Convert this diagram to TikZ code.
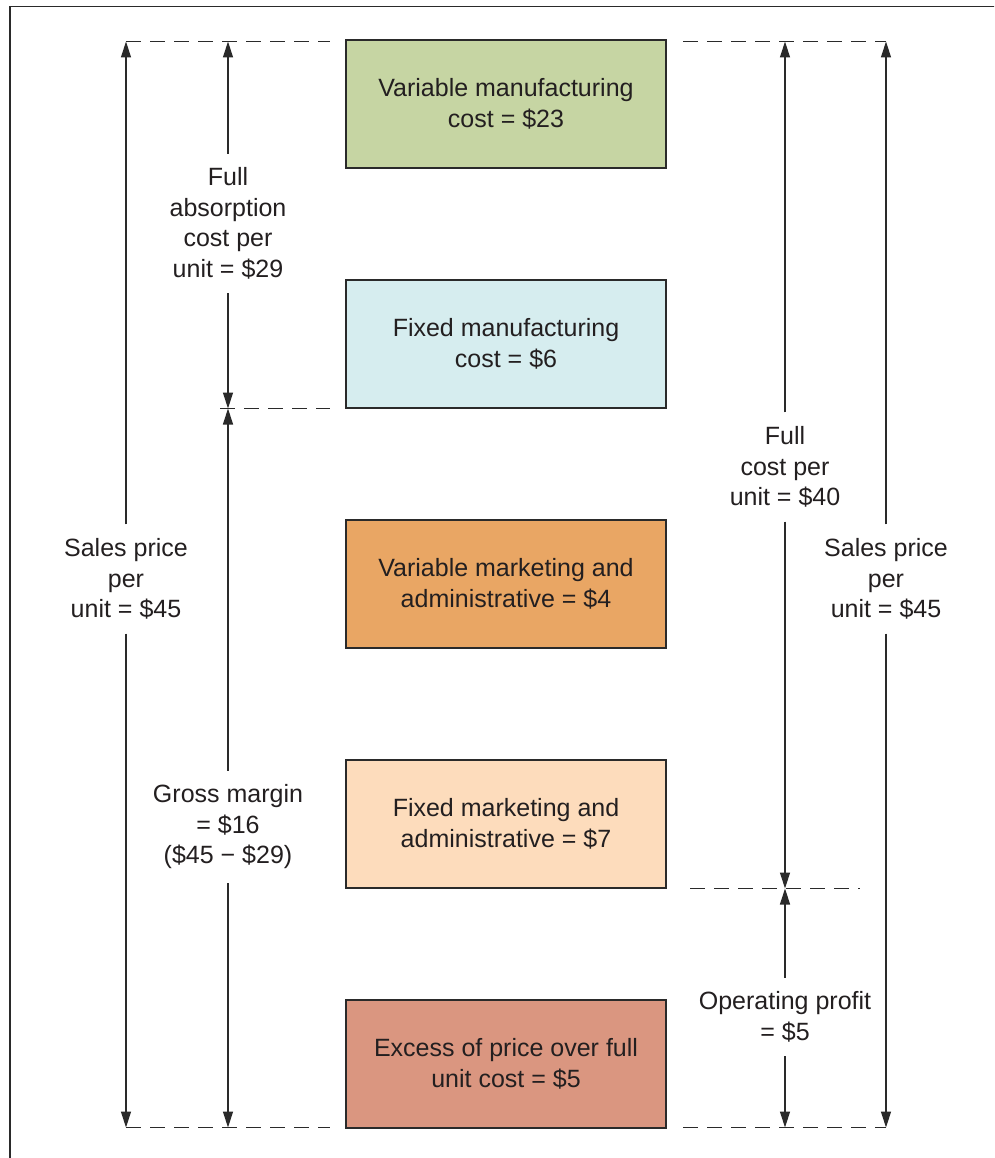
\documentclass[tikz,border=0pt]{standalone}
\usepackage{fontspec}
\setmainfont{Liberation Sans}
\usetikzlibrary{arrows.meta}

\definecolor{ink}{HTML}{231F20}
\definecolor{linegray}{HTML}{2A2A2A}
\definecolor{vmfill}{HTML}{C6D5A3}
\definecolor{fmfill}{HTML}{D6EDEF}
\definecolor{vafill}{HTML}{E9A664}
\definecolor{fafill}{HTML}{FDDCBC}
\definecolor{exfill}{HTML}{DA9680}

\tikzset{
  costbox/.style={draw=linegray, line width=1.1pt, minimum width=320pt,
    minimum height=128pt, inner sep=0pt, align=center, text=ink},
  sidelabel/.style={align=center, text=ink, inner xsep=2pt, inner ysep=14pt},
  dimarrow/.style={draw=linegray, line width=1.3pt,
    -{Triangle[length=16pt,width=10pt]}},
  guide/.style={draw=linegray, line width=1.4pt, dash pattern=on 15pt off 9pt},
}

\begin{document}
\begin{tikzpicture}[x=1pt, y=-1pt, font=\fontsize{25}{30.5}\selectfont]
  \clip (0,0) rectangle (994,1158);
  \fill[white] (0,0) rectangle (994,1158);

  % outer frame (runs past the right and lower edges)
  \draw[linegray, line width=1.3pt] (10,6.7) rectangle (1020,1200);

  % cost blocks
  \node[costbox, fill=vmfill] (vm) at (506,104) {Variable manufacturing\\cost = \$23};
  \node[costbox, fill=fmfill] (fm) at (506,344) {Fixed manufacturing\\cost = \$6};
  \node[costbox, fill=vafill] (va) at (506,584) {Variable marketing and\\administrative = \$4};
  \node[costbox, fill=fafill] (fa) at (506,824) {Fixed marketing and\\administrative = \$7};
  \node[costbox, fill=exfill] (ex) at (506,1064) {Excess of price over full\\unit cost = \$5};

  % guide line end points
  \coordinate (topL)  at (126,41.5);
  \coordinate (topM)  at (228,41.5);
  \coordinate (topLe) at (330,41.5);
  \coordinate (topRs) at (683,41.5);
  \coordinate (topC)  at (785,41.5);
  \coordinate (topR)  at (886,41.5);
  \coordinate (midLs) at (220,408.5);
  \coordinate (midM)  at (228,408.5);
  \coordinate (midLe) at (330,408.5);
  \coordinate (midRs) at (690,888.5);
  \coordinate (midC)  at (785,888.5);
  \coordinate (midRe) at (860,888.5);
  \coordinate (botL)  at (126,1127.5);
  \coordinate (botM)  at (228,1127.5);
  \coordinate (botLe) at (330,1127.5);
  \coordinate (botRs) at (683,1127.5);
  \coordinate (botC)  at (785,1127.5);
  \coordinate (botR)  at (886,1127.5);

  % dashed guide lines
  \draw[guide] (topL) -- (topLe);
  \draw[guide] (topRs) -- (topR);
  \draw[guide] (midLs) -- (midLe);
  \draw[guide] (midRs) -- (midRe);
  \draw[guide] (botL) -- (botLe);
  \draw[guide] (botRs) -- (botR);

  % dimension labels
  \node[sidelabel] (spL) at (126,579) {Sales price\\per\\unit = \$45};
  \node[sidelabel] (fac) at (228,223.5) {Full\\absorption\\cost per\\unit = \$29};
  \node[sidelabel] (gm)  at (228,827) {Gross margin\\= \$16\\(\$45 − \$29)};
  \node[sidelabel] (fc)  at (785,467) {Full\\cost per\\unit = \$40};
  \node[sidelabel] (op)  at (785,1017) {Operating profit\\= \$5};
  \node[sidelabel] (spR) at (886,579) {Sales price\\per\\unit = \$45};

  % dimension arrows
  \draw[dimarrow] (spL.north) -- (topL);
  \draw[dimarrow] (spL.south) -- (botL);
  \draw[dimarrow] (fac.north) -- (topM);
  \draw[dimarrow] (fac.south) -- (midM);
  \draw[dimarrow] (gm.north) -- (midM);
  \draw[dimarrow] (gm.south) -- (botM);
  \draw[dimarrow] (fc.north) -- (topC);
  \draw[dimarrow] (fc.south) -- (midC);
  \draw[dimarrow] (op.north) -- (midC);
  \draw[dimarrow] (op.south) -- (botC);
  \draw[dimarrow] (spR.north) -- (topR);
  \draw[dimarrow] (spR.south) -- (botR);
\end{tikzpicture}
\end{document}
